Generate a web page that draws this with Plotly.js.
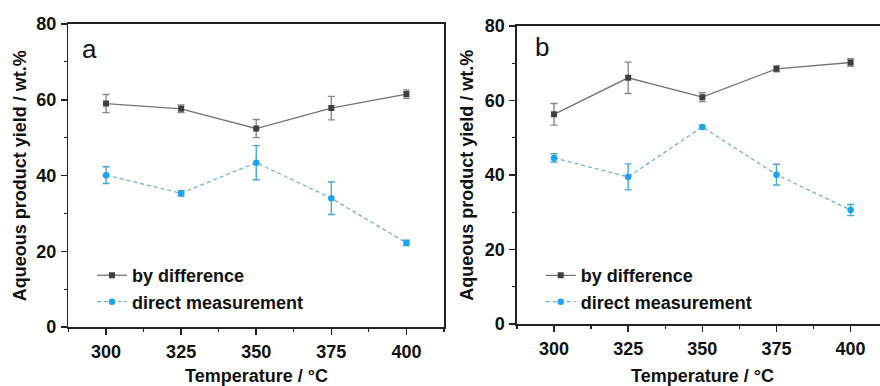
<!DOCTYPE html>
<html>
<head>
<meta charset="utf-8">
<script src="https://cdn.plot.ly/plotly-3.0.1.min.js"></script>
<style>
html, body { margin: 0; padding: 0; overflow: hidden; background: #fff; }
#chart { width: 900px; height: 386px; }
</style>
</head>
<body>
<div id="chart"></div>
<script>
// Temperatures (°C)
const temperatures = [300, 325, 350, 375, 400];
const xTickVals = [300, 325, 350, 375, 400];
const xTickText = ['300', '325', '350', '375', '400'];
const yTickVals = [0, 20, 40, 60, 80];
const yTickText = ['0', '20', '40', '60', '80'];

// Panel a
const aByDifference = [59.0, 57.6, 52.4, 57.8, 61.5];
const aByDifferenceErr = [2.4, 1.0, 2.4, 3.1, 1.1];
const aDirect = [40.1, 35.3, 43.4, 34.0, 22.2];
const aDirectErr = [2.2, 0.7, 4.5, 4.3, 0.7];

// Panel b
const bByDifference = [56.3, 66.1, 60.9, 68.5, 70.2];
const bByDifferenceErr = [2.9, 4.2, 1.2, 0.8, 1.0];
const bDirect = [44.6, 39.5, 52.9, 40.1, 30.6];
const bDirectErr = [1.1, 3.5, 0.4, 2.8, 1.5];

const seriesNames = ['by difference', 'direct measurement'];
const panelLabels = ['a', 'b'];
const xTitle = 'Temperature / °C';
const yTitle = 'Aqueous product yield / wt.%';

const FONT = 'Liberation Sans, Arial, sans-serif';
const greyLine = '#747474';
const greyMarker = '#3f3f3f';
const greyErr = '#8a8a8a';
const blueLine = '#6fb2de';
const blueMarker = '#1ca3f2';
const blueErr = '#45a6df';

function diffTrace(y, err, xa, ya, leg) {
  return {
    x: temperatures, y: y, xaxis: xa, yaxis: ya, legend: leg,
    name: seriesNames[0], type: 'scatter', mode: 'lines+markers',
    line: { color: greyLine, width: 1.3 },
    marker: { symbol: 'square', size: 6, color: greyMarker },
    error_y: { type: 'data', array: err, visible: true, color: greyErr, thickness: 1.4, width: 3.5 }
  };
}
function directTrace(y, err, xa, ya, leg) {
  return {
    x: temperatures, y: y, xaxis: xa, yaxis: ya, legend: leg,
    name: seriesNames[1], type: 'scatter', mode: 'lines+markers',
    line: { color: blueLine, width: 1.3, dash: '4px,3px' },
    marker: { symbol: 'circle', size: 6.5, color: blueMarker },
    error_y: { type: 'data', array: err, visible: true, color: blueErr, thickness: 1.4, width: 3.5 }
  };
}

const data = [
  diffTrace(aByDifference, aByDifferenceErr, 'x', 'y', 'legend'),
  directTrace(aDirect, aDirectErr, 'x', 'y', 'legend'),
  diffTrace(bByDifference, bByDifferenceErr, 'x2', 'y2', 'legend2'),
  directTrace(bDirect, bDirectErr, 'x2', 'y2', 'legend2')
];

function xAxis(domain, anchor) {
  return {
    domain: domain, anchor: anchor, range: [287.5, 412.5],
    tickvals: xTickVals, ticktext: xTickText,
    ticks: 'outside', ticklen: 6, tickwidth: 1.5, tickcolor: '#222',
    minor: { ticks: 'outside', dtick: 12.5, tick0: 287.5, ticklen: 3, tickwidth: 1.2, tickcolor: '#222' },
    showline: true, linecolor: '#222', linewidth: 1.6, mirror: true,
    showgrid: false, zeroline: false, fixedrange: true,
    tickfont: { family: FONT, size: 18, color: '#111', weight: 'bold' },
    ticklabelstandoff: 2
  };
}
function yAxis(domain, anchor) {
  return {
    domain: domain, anchor: anchor, range: [0, 80],
    tickvals: yTickVals, ticktext: yTickText,
    ticks: 'outside', ticklen: 6, tickwidth: 1.5, tickcolor: '#222',
    minor: { ticks: 'outside', dtick: 10, tick0: 0, ticklen: 3, tickwidth: 1.2, tickcolor: '#222' },
    showline: true, linecolor: '#222', linewidth: 1.6, mirror: true,
    showgrid: false, zeroline: false, fixedrange: true,
    tickfont: { family: FONT, size: 18, color: '#111', weight: 'bold' },
    ticklabelstandoff: 1
  };
}

const legendCommon = {
  xref: 'paper', yref: 'paper', xanchor: 'left', yanchor: 'top',
  bgcolor: 'rgba(0,0,0,0)', borderwidth: 0,
  font: { family: FONT, size: 18, color: '#111', weight: 'bold' },
  tracegroupgap: 0, itemwidth: 30
};

const layout = {
  width: 900, height: 386,
  margin: { l: 0, r: 0, t: 0, b: 0 },
  paper_bgcolor: '#fff', plot_bgcolor: '#fff',
  showlegend: true,
  xaxis: xAxis([0.0761, 0.4933], 'y'),
  yaxis: yAxis([0.1528, 0.9378], 'x'),
  xaxis2: xAxis([0.5744, 0.9863], 'y2'),
  yaxis2: yAxis([0.1606, 0.9326], 'x2'),
  legend: Object.assign({ x: 0.1022, y: 0.334 }, legendCommon),
  legend2: Object.assign({ x: 0.6008, y: 0.334 }, legendCommon),
  annotations: [
    { text: panelLabels[0], xref: 'paper', yref: 'paper', x: 0.089, y: 0.872, xanchor: 'left', yanchor: 'middle', showarrow: false,
      font: { family: FONT, size: 26, color: '#111' } },
    { text: panelLabels[1], xref: 'paper', yref: 'paper', x: 0.592, y: 0.877, xanchor: 'left', yanchor: 'middle', showarrow: false,
      font: { family: FONT, size: 26, color: '#111' } },
    { text: yTitle, xref: 'paper', yref: 'paper', x: 20.8 / 900, y: (386 - 175.5) / 386, textangle: -90,
      xanchor: 'center', yanchor: 'middle', showarrow: false,
      font: { family: FONT, size: 18, color: '#111', weight: 'bold' } },
    { text: yTitle, xref: 'paper', yref: 'paper', x: 466.7 / 900, y: (386 - 175) / 386, textangle: -90,
      xanchor: 'center', yanchor: 'middle', showarrow: false,
      font: { family: FONT, size: 18, color: '#111', weight: 'bold' } },
    { text: xTitle, xref: 'paper', yref: 'paper', x: 256 / 900, y: 0, yshift: -2,
      xanchor: 'center', yanchor: 'bottom', showarrow: false,
      font: { family: FONT, size: 18, color: '#111', weight: 'bold' } },
    { text: xTitle, xref: 'paper', yref: 'paper', x: 702 / 900, y: 0, yshift: -2,
      xanchor: 'center', yanchor: 'bottom', showarrow: false,
      font: { family: FONT, size: 18, color: '#111', weight: 'bold' } }
  ]
};

Plotly.newPlot('chart', data, layout, { displayModeBar: false, staticPlot: true });
</script>
</body>
</html>
